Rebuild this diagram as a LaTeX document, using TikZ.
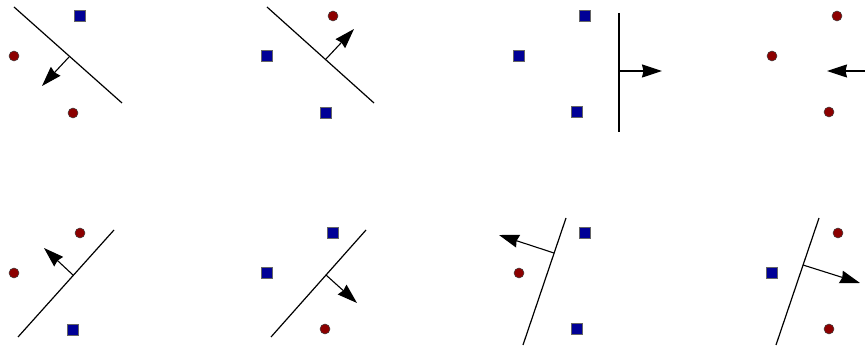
\documentclass[tikz,border=0pt]{standalone}
\usetikzlibrary{arrows.meta}

\definecolor{ptred}{RGB}{140,0,0}
\definecolor{ptblue}{RGB}{0,0,150}

\begin{document}
\begin{tikzpicture}[
  x=1pt,y=-1pt,
  dotred/.style={circle,draw=black!75,line width=0.5pt,fill=ptred,inner sep=0pt,minimum size=10pt},
  sqblue/.style={rectangle,draw=black!60,line width=0.5pt,fill=ptblue,inner sep=0pt,minimum size=11pt},
  plane/.style={line width=1.2pt},
  normal/.style={line width=1.1pt,-{Stealth[length=20pt,width=13pt,inset=1.5pt]}}
]
  \useasboundingbox (0,0) rectangle (865,347);
  \clip (0,0) rectangle (865,347);

  % top row
  \node[sqblue] (a1) at (80,16) {};
  \node[dotred] (a2) at (14,56) {};
  \node[dotred] (a3) at (73,113) {};
  \coordinate (pa1) at (14,7);
  \coordinate (pa2) at (122,103);
  \coordinate (na1) at (69,57);
  \coordinate (na2) at (42,86);
  \draw[plane] (pa1) -- (pa2);
  \draw[normal] (na1) -- (na2);

  \node[dotred] (b1) at (333,16) {};
  \node[sqblue] (b2) at (267,56) {};
  \node[sqblue] (b3) at (326,113) {};
  \coordinate (pb1) at (267,7);
  \coordinate (pb2) at (374,103);
  \coordinate (nb1) at (326,59);
  \coordinate (nb2) at (354,29);
  \draw[plane] (pb1) -- (pb2);
  \draw[normal] (nb1) -- (nb2);

  \node[sqblue] (c1) at (585,16) {};
  \node[sqblue] (c2) at (519,56) {};
  \node[sqblue] (c3) at (577,112) {};
  \coordinate (pc1) at (619,13);
  \coordinate (pc2) at (619,132);
  \coordinate (nc1) at (619,71);
  \coordinate (nc2) at (662,71);
  \draw[plane] (pc1) -- (pc2);
  \draw[normal] (nc1) -- (nc2);

  \node[dotred] (d1) at (837,16) {};
  \node[dotred] (d2) at (772,56) {};
  \node[dotred] (d3) at (829,112) {};
  \coordinate (nd1) at (872,71);
  \coordinate (nd2) at (827,71);
  \draw[normal] (nd1) -- (nd2);

  % bottom row
  \node[dotred] (e1) at (80,233) {};
  \node[dotred] (e2) at (14,273) {};
  \node[sqblue] (e3) at (73,330) {};
  \coordinate (pe1) at (18,337);
  \coordinate (pe2) at (114,230);
  \coordinate (ne1) at (73,275);
  \coordinate (ne2) at (44,248);
  \draw[plane] (pe1) -- (pe2);
  \draw[normal] (ne1) -- (ne2);

  \node[sqblue] (f1) at (333,233) {};
  \node[sqblue] (f2) at (267,273) {};
  \node[dotred] (f3) at (325,329) {};
  \coordinate (pf1) at (271,337);
  \coordinate (pf2) at (366,230);
  \coordinate (nf1) at (326,275);
  \coordinate (nf2) at (357,303);
  \draw[plane] (pf1) -- (pf2);
  \draw[normal] (nf1) -- (nf2);

  \node[sqblue] (g1) at (585,233) {};
  \node[dotred] (g2) at (519,273) {};
  \node[sqblue] (g3) at (577,329) {};
  \coordinate (pg1) at (523,345);
  \coordinate (pg2) at (566,218);
  \coordinate (ng1) at (554,253);
  \coordinate (ng2) at (499,235);
  \draw[plane] (pg1) -- (pg2);
  \draw[normal] (ng1) -- (ng2);

  \node[dotred] (h1) at (838,233) {};
  \node[sqblue] (h2) at (772,273) {};
  \node[dotred] (h3) at (829,329) {};
  \coordinate (ph1) at (776,345);
  \coordinate (ph2) at (819,218);
  \coordinate (nh1) at (803,265);
  \coordinate (nh2) at (860,283);
  \draw[plane] (ph1) -- (ph2);
  \draw[normal] (nh1) -- (nh2);
\end{tikzpicture}
\end{document}
